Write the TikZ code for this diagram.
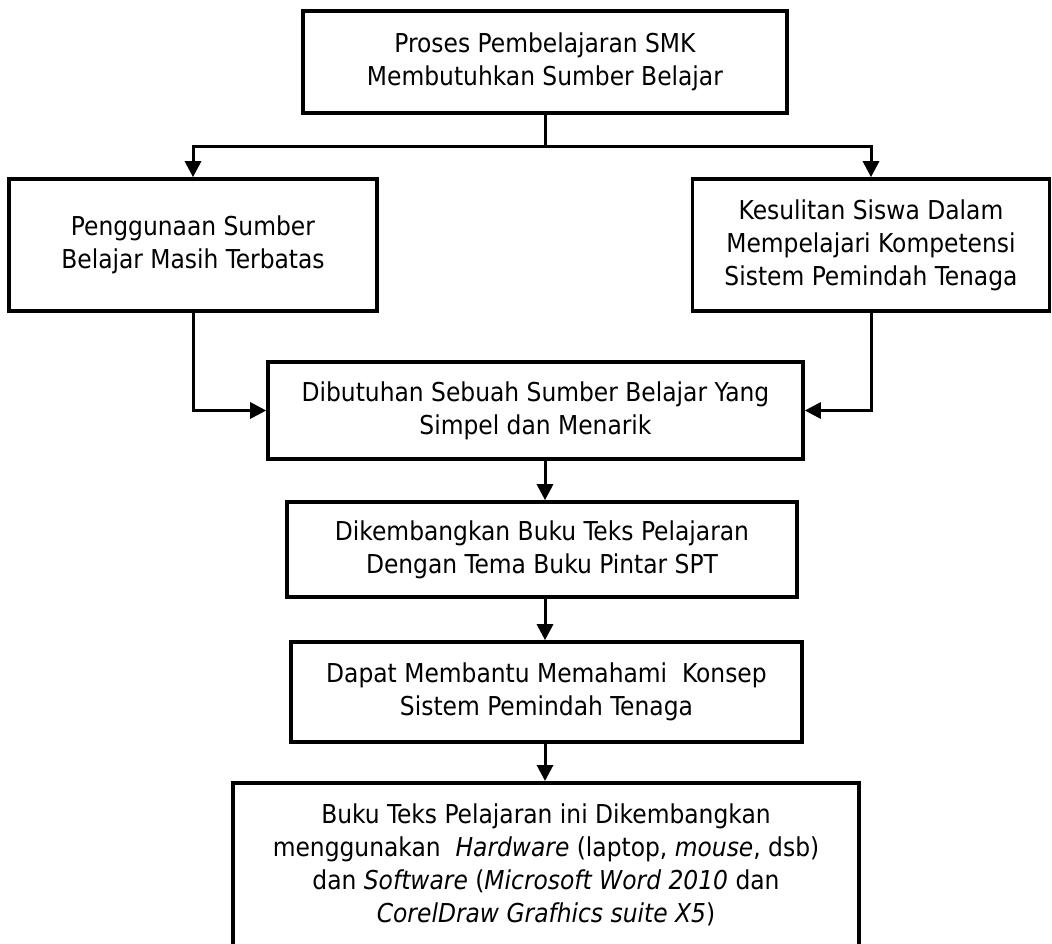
\documentclass[tikz,border=0pt]{standalone}
\usepackage{fontspec}
\setmainfont{DejaVu Sans Condensed}
\usetikzlibrary{arrows.meta}
\tikzset{
    box/.style={draw, line width=3.6pt, align=center, inner sep=0pt},
    arr/.style={line width=3pt, -{Triangle[length=16pt,width=16pt]}},
    conn/.style={line width=3pt}
}
\begin{document}
\begin{tikzpicture}[x=1pt, y=-1pt, font=\fontsize{26}{33}\selectfont]
                \useasboundingbox (0,0) rectangle (1052,944);
                \clip (0,0) rectangle (1052,944);
                \node [box, minimum width=484pt, minimum height=102pt] (proses) at (545,62) {Proses Pembelajaran SMK\\Membutuhkan Sumber Belajar};
                \node [box, minimum width=368pt, minimum height=132pt] (guna) at (193,245) {Penggunaan Sumber\\Belajar Masih Terbatas};
                \node [box, minimum width=357pt, minimum height=132pt] (sulit) at (871,245) {Kesulitan Siswa Dalam\\Mempelajari Kompetensi\\Sistem Pemindah Tenaga};
                \node [box, minimum width=535pt, minimum height=97pt] (butuh) at (535.5,410.5) {Dibutuhan Sebuah Sumber Belajar Yang\\Simpel dan Menarik};
                \node [box, minimum width=510pt, minimum height=95pt] (kembang) at (542,549.5) {Dikembangkan Buku Teks Pelajaran\\Dengan Tema Buku Pintar SPT};
                \node [box, minimum width=511pt, minimum height=100pt] (bantu) at (546.5,692) {Dapat Membantu Memahami~ Konsep\\Sistem Pemindah Tenaga};
                \node [box, minimum width=626pt, minimum height=194pt, anchor=north] (buku) at (546,781) {Buku Teks Pelajaran ini Dikembangkan\\menggunakan~ \textit{Hardware} (laptop, \textit{mouse}, dsb)\\dan \textit{Software} (\textit{Microsoft Word 2010} dan\\\textit{CorelDraw Grafhics suite X5})\\~};

                \draw [conn] (proses.south) -- ++(0,32) coordinate (split);
                \draw [arr] (split) -| (guna.north);
                \draw [arr] (split) -| (sulit.north);
                \draw [arr] (guna.south) |- (butuh.west);
                \draw [arr] (sulit.south) |- (butuh.east);
                \draw [arr] (proses.south |- butuh.south) -- (proses.south |- kembang.north);
                \draw [arr] (proses.south |- kembang.south) -- (proses.south |- bantu.north);
                \draw [arr] (proses.south |- bantu.south) -- (proses.south |- buku.north);
            \end{tikzpicture}
\end{document}
